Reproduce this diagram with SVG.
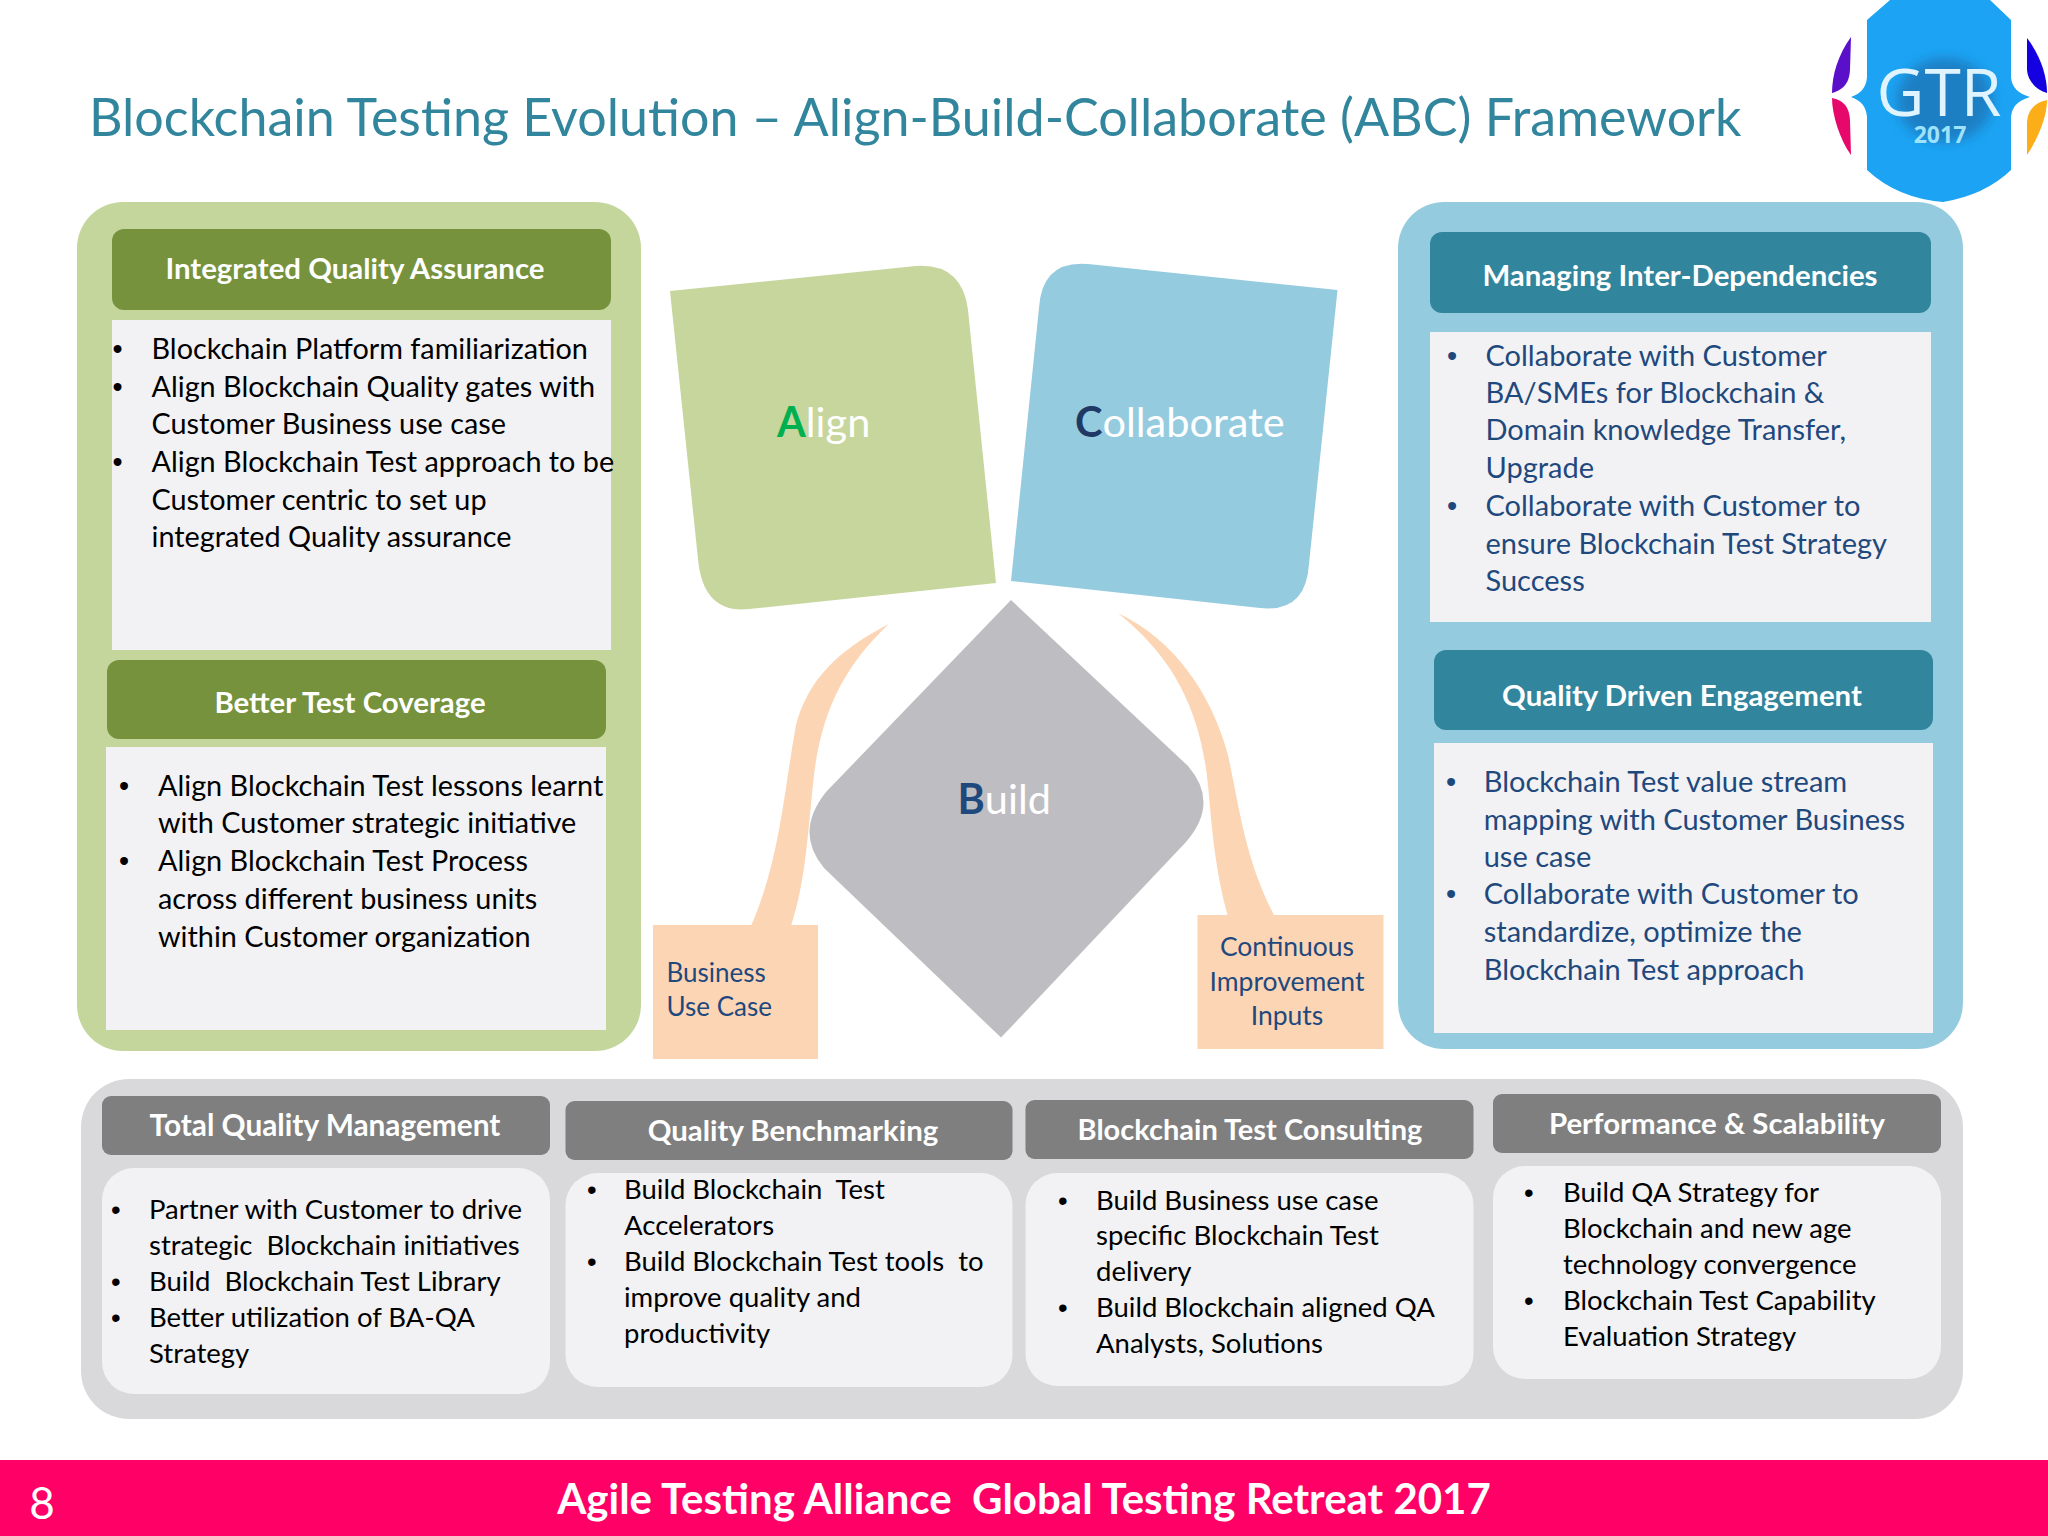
<svg xmlns="http://www.w3.org/2000/svg" width="2048" height="1536" viewBox="0 0 2048 1536">
<defs>
<style>
text{font-family:Lato,"Liberation Sans",sans-serif;white-space:pre}
.hg{fill:#76923c}.hb{fill:#31859c}.hk{fill:#7f7f7f}
.box{fill:#f2f2f4}
.ht{font-size:29.4px;font-weight:700;fill:#fff;text-anchor:middle}
.b{font-size:28.8px;fill:#000}
.n{font-size:29px;fill:#1f497d}
.s{font-size:27.5px;fill:#000}
.p{font-size:26px;fill:#1f497d}
.big{font-size:41.5px;fill:#fff}
.dot{font-family:"Liberation Sans",sans-serif}
.peach{fill:#fcd5b5}
</style>
<filter id="soft" x="-30%" y="-30%" width="160%" height="160%"><feGaussianBlur stdDeviation="6"/></filter>
</defs>
<rect width="2048" height="1536" fill="#fff"/>
<text id="title" x="89" y="135.500" font-size="52" fill="#31859c">Blockchain Testing Evolution – Align-Build-Collaborate (ABC) Framework</text>

<g id="logo">
<path d="M1851,37C1838,55 1832,75 1832,93C1842,90 1849,85 1850,70Z" fill="#5a10c8"/>
<path d="M1851,155C1840,140 1832,115 1832,98C1842,100 1849,105 1850,120Z" fill="#e6096b"/>
<path d="M2027,38C2040,55 2047,75 2047,93C2037,90 2028,82 2027,70Z" fill="#1400e0"/>
<path d="M2027,155C2040,135 2047,115 2047,100C2037,102 2028,108 2027,122Z" fill="#fbae17"/>
<path d="M1867,20L1890,0H1990L2011,20V77Q2012,92 2030,97Q2012,102 2011,117V170Q1985,195 1943,202Q1897,198 1867,170V117Q1866,102 1851,97Q1866,92 1867,77Z" fill="#1ca3f3"/>
<ellipse cx="1945" cy="100" rx="48" ry="42" fill="#1a7fc4" filter="url(#soft)"/>
<text x="1939" y="116" font-size="66" fill="#dff4ff" text-anchor="middle" style="font-family:'Open Sans',sans-serif">GTR</text>
<text x="1940" y="143" font-size="23" font-weight="700" fill="#9fe2fb" text-anchor="middle" style="font-family:'Open Sans',sans-serif">2017</text>
</g>

<g id="panel-left">
<rect x="77" y="202" width="564" height="849" rx="46" fill="#c4d69b"/>
</g>
<g id="integrated-quality-assurance">
<rect class="hg" x="112" y="229" width="499" height="81" rx="12"/>
<text class="ht" x="355" y="279">Integrated Quality Assurance</text>
<rect class="box" x="112" y="320" width="499" height="330"/>
<text class="b dot" x="112.500" y="359">•</text><text class="b" x="151.500" y="359">Blockchain Platform familiarization</text>
<text class="b dot" x="112.500" y="397">•</text><text class="b" x="151.500" y="397">Align Blockchain Quality gates with</text>
<text class="b" x="151.500" y="434">Customer Business use case</text>
<text class="b dot" x="112.500" y="472">•</text><text class="b" x="151.500" y="472">Align Blockchain Test approach to be</text>
<text class="b" x="151.500" y="509.500">Customer centric to set up</text>
<text class="b" x="151.500" y="547">integrated Quality assurance</text>
</g>
<g id="better-test-coverage">
<rect class="hg" x="107" y="660" width="499" height="79" rx="12"/>
<text class="ht" x="350" y="712.500">Better Test Coverage</text>
<rect class="box" x="106" y="747" width="500" height="283"/>
<text class="b dot" x="119" y="795.500">•</text><text class="b" x="158" y="795.500">Align Blockchain Test lessons learnt</text>
<text class="b" x="158" y="833">with Customer strategic initiative</text>
<text class="b dot" x="119" y="871">•</text><text class="b" x="158" y="871">Align Blockchain Test Process</text>
<text class="b" x="158" y="909">across different business units</text>
<text class="b" x="158" y="947">within Customer organization</text>
</g>

<g id="panel-right">
<rect x="1398" y="202" width="565" height="847" rx="46" fill="#95cbdf"/>
</g>
<g id="managing-inter-dependencies">
<rect class="hb" x="1430" y="232" width="501" height="81" rx="12"/>
<text class="ht" x="1680" y="286">Managing Inter-Dependencies</text>
<rect class="box" x="1430" y="332" width="501" height="290"/>
<text class="n dot" x="1447" y="365.500">•</text><text class="n" x="1485.500" y="365.500">Collaborate with Customer</text>
<text class="n" x="1485.500" y="402.500">BA/SMEs for Blockchain &amp;</text>
<text class="n" x="1485.500" y="440">Domain knowledge Transfer,</text>
<text class="n" x="1485.500" y="478">Upgrade</text>
<text class="n dot" x="1447" y="516">•</text><text class="n" x="1485.500" y="516">Collaborate with Customer to</text>
<text class="n" x="1485.500" y="554">ensure Blockchain Test Strategy</text>
<text class="n" x="1485.500" y="591">Success</text>
</g>
<g id="quality-driven-engagement">
<rect class="hb" x="1434" y="650" width="499" height="80" rx="12"/>
<text class="ht" x="1682" y="705.500">Quality Driven Engagement</text>
<rect class="box" x="1434" y="743" width="499" height="290"/>
<text class="n dot" x="1446" y="791.500">•</text><text class="n" x="1483.700" y="791.500">Blockchain Test value stream</text>
<text class="n" x="1483.700" y="829.500">mapping with Customer Business</text>
<text class="n" x="1483.700" y="867">use case</text>
<text class="n dot" x="1446" y="904">•</text><text class="n" x="1483.700" y="904">Collaborate with Customer to</text>
<text class="n" x="1483.700" y="942">standardize, optimize the</text>
<text class="n" x="1483.700" y="979.600">Blockchain Test approach</text>
</g>

<g id="connectors">
<path class="peach" d="M889,624C838,650 808,680 796,725C784,790 780,860 751,926L791,926C806,880 808,830 814,775C822,710 845,665 889,624Z"/>
<path class="peach" d="M1118,613C1175,640 1212,695 1228,755C1240,810 1245,860 1275,917L1228,917C1215,870 1212,830 1208,785C1200,705 1170,655 1118,613Z"/>
</g>

<g id="align">
<path d="M670,291L916,266Q962,263 968,310L996,583L749,609Q703,614 698,559Z" fill="#c6d69d"/>
<text class="big" x="777" y="437"><tspan font-weight="700" fill="#00b050">A</tspan>lign</text>
</g>
<g id="collaborate">
<path d="M1337.500,290L1088,264Q1042,260 1039,308L1011,581L1260,608Q1306,613 1309,564Z" fill="#95cbdf"/>
<text class="big" x="1075" y="437"><tspan font-weight="700" fill="#1f3864">C</tspan>ollaborate</text>
</g>
<g id="build">
<path d="M1011,600L1188,766Q1220,803 1186,842L1001,1037.600L824,868Q794,832 826,792Z" fill="#bebdc1"/>
<text class="big" x="957.500" y="814"><tspan font-weight="700" fill="#1f497d">B</tspan>uild</text>
</g>
<g id="business-use-case">
<rect class="peach" x="653" y="925" width="165" height="134"/>
<text class="p" x="666.500" y="982">Business</text>
<text class="p" x="666.500" y="1016">Use Case</text>
</g>
<g id="continuous-improvement-inputs">
<rect class="peach" x="1197.500" y="915" width="186" height="134"/>
<text class="p" x="1287" y="956" text-anchor="middle" style="font-size:26.500px">Continuous</text>
<text class="p" x="1287" y="990.500" text-anchor="middle" style="font-size:26.500px">Improvement</text>
<text class="p" x="1287" y="1025" text-anchor="middle" style="font-size:26.500px">Inputs</text>
</g>

<g id="panel-bottom">
<rect x="81" y="1079" width="1882" height="340" rx="48" fill="#d9d9db"/>
</g>
<g id="total-quality-management">
<rect class="hk" x="102" y="1096" width="448" height="59" rx="9"/>
<text class="ht" x="325" y="1136" style="font-size:29.800px">Total Quality Management</text>
<rect class="box" x="102" y="1168" width="448" height="226" rx="32"/>
<text class="s dot" x="111" y="1218.500">•</text><text class="s" x="149" y="1218.500">Partner with Customer to drive</text>
<text class="s" x="149" y="1255">strategic  Blockchain initiatives</text>
<text class="s dot" x="111" y="1290.600">•</text><text class="s" x="149" y="1290.600">Build  Blockchain Test Library</text>
<text class="s dot" x="111" y="1327">•</text><text class="s" x="149" y="1327">Better utilization of BA-QA</text>
<text class="s" x="149" y="1362.600">Strategy</text>
</g>
<g id="quality-benchmarking">
<rect class="hk" x="565.500" y="1101" width="447" height="59" rx="9"/>
<text class="ht" x="793" y="1141">Quality Benchmarking</text>
<rect class="box" x="565.500" y="1173" width="447" height="214" rx="32"/>
<text class="s dot" x="587" y="1199">•</text><text class="s" x="624" y="1199">Build Blockchain  Test</text>
<text class="s" x="624" y="1235">Accelerators</text>
<text class="s dot" x="587" y="1271">•</text><text class="s" x="624" y="1271">Build Blockchain Test tools  to</text>
<text class="s" x="624" y="1306.500">improve quality and</text>
<text class="s" x="624" y="1342.500">productivity</text>
</g>
<g id="blockchain-test-consulting">
<rect class="hk" x="1025.500" y="1100" width="448" height="59" rx="9"/>
<text class="ht" x="1250" y="1140" style="font-size:29px">Blockchain Test Consulting</text>
<rect class="box" x="1025.500" y="1173" width="448" height="213" rx="32"/>
<text class="s dot" x="1058" y="1209.500">•</text><text class="s" x="1096" y="1209.500">Build Business use case</text>
<text class="s" x="1096" y="1245">specific Blockchain Test</text>
<text class="s" x="1096" y="1281">delivery</text>
<text class="s dot" x="1058" y="1317">•</text><text class="s" x="1096" y="1317">Build Blockchain aligned QA</text>
<text class="s" x="1096" y="1353">Analysts, Solutions</text>
</g>
<g id="performance-scalability">
<rect class="hk" x="1493" y="1094" width="448" height="59" rx="9"/>
<text class="ht" x="1717" y="1134">Performance &amp; Scalability</text>
<rect class="box" x="1493" y="1166" width="448" height="213" rx="32"/>
<text class="s dot" x="1524" y="1201.500">•</text><text class="s" x="1563" y="1201.500">Build QA Strategy for</text>
<text class="s" x="1563" y="1238">Blockchain and new age</text>
<text class="s" x="1563" y="1273.500">technology convergence</text>
<text class="s dot" x="1524" y="1310">•</text><text class="s" x="1563" y="1310">Blockchain Test Capability</text>
<text class="s" x="1563" y="1346">Evaluation Strategy</text>
</g>

<g id="footer">
<rect y="1460" width="2048" height="76" fill="#ff0066"/>
<text x="42" y="1519" font-size="44" fill="#fff" text-anchor="middle">8</text>
<text x="1024" y="1514" font-size="42" font-weight="700" fill="#fff" text-anchor="middle">Agile Testing Alliance  Global Testing Retreat 2017</text>
</g>
</svg>
